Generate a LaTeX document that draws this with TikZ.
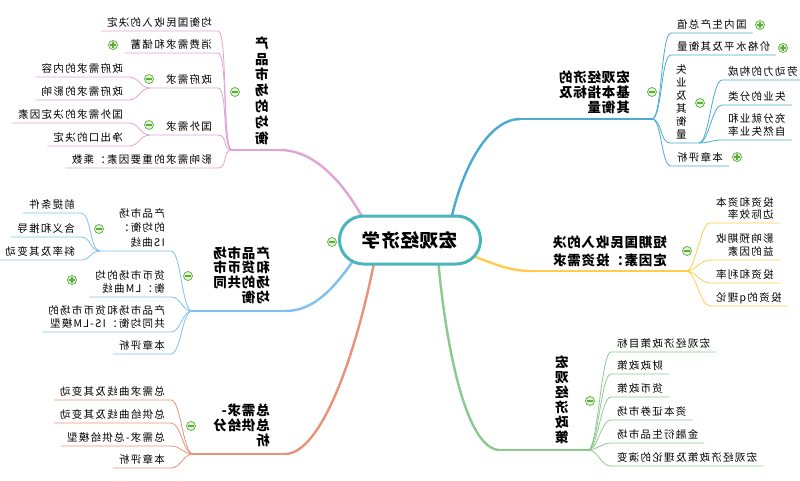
\documentclass[tikz,border=0pt]{standalone}
\usepackage{fontspec}
\setmainfont{Noto Sans CJK SC}
\usetikzlibrary{calc}
\definecolor{boxteal}{HTML}{4BB5BC}
\definecolor{brA}{HTML}{4AABCF}
\definecolor{brB}{HTML}{FFCC4D}
\definecolor{brC}{HTML}{8CC98F}
\definecolor{brD}{HTML}{E0A3D5}
\definecolor{brE}{HTML}{80C0F0}
\definecolor{brF}{HTML}{E89378}
\definecolor{btngreen}{HTML}{5AAE3A}
\definecolor{btnfill}{HTML}{E4F2D8}
\tikzset{
  leaf/.style={inner xsep=6pt, inner ysep=2.6pt, text depth=2pt, align=left,
    font=\fontsize{10.5}{13}\selectfont\addfontfeatures{LetterSpace=12}},
  topic/.style={inner sep=0pt, text depth=2pt, align=left,
    font=\fontsize{13.5}{15}\selectfont\bfseries\addfontfeatures{LetterSpace=6}},
  trunk/.style={line width=2.4pt, line cap=round},
  stem/.style={line width=1.2pt},
  twig/.style={line width=0.8pt},
  btn/.style={circle, draw=btngreen, fill=btnfill, line width=0.7pt,
    minimum size=9pt, inner sep=0pt},
  collapse/.style={btn, path picture={
    \draw[btngreen, line width=1.1pt] ([xshift=-2.6pt]path picture bounding box.center)
      -- ([xshift=2.6pt]path picture bounding box.center);}},
  expand/.style={btn, path picture={
    \draw[btngreen, line width=1.1pt] ([xshift=-2.6pt]path picture bounding box.center)
      -- ([xshift=2.6pt]path picture bounding box.center)
      ([yshift=-2.6pt]path picture bounding box.center)
      -- ([yshift=2.6pt]path picture bounding box.center);}},
}
\begin{document}
\begin{tikzpicture}[x=1pt, y=-1pt]
\begin{scope}[xscale=-1, transform shape]
\useasboundingbox (0,0) rectangle (800,481);
% junctions
\coordinate (jA) at (148,119);
\coordinate (jU) at (101,143);
\coordinate (jB) at (114,271);
\coordinate (jC) at (212,450);
\coordinate (jD) at (568,150);
\coordinate (jG) at (650,88);
\coordinate (jW) at (650,135);
\coordinate (jE) at (608,311);
\coordinate (jI) at (700,251);
\coordinate (jF) at (607,454);
% trunk ends
\coordinate (aIn) at (280,119);
\coordinate (bIn) at (267,271);
\coordinate (cIn) at (300,450);
\coordinate (dIn) at (520,150);
\coordinate (eIn) at (515,311);
\coordinate (fIn) at (515,454);
\coordinate (pA) at (350,225);
\coordinate (pB) at (330,255);
\coordinate (pC) at (362,258);
\coordinate (pD) at (435,222);
\coordinate (pE) at (445,258);
\coordinate (pF) at (425,258);

% trunks
\draw[trunk, brA] (pA) .. controls (338,165) and (310,119) .. (aIn);
\draw[trunk, brB] (pB) .. controls (300,266) and (290,271) .. (bIn);
\draw[trunk, brC] (pC) .. controls (355,340) and (335,450) .. (cIn);
\draw[trunk, brD] (pD) .. controls (460,175) and (490,150) .. (dIn);
\draw[trunk, brE] (pE) .. controls (470,295) and (490,311) .. (eIn);
\draw[trunk, brF] (pF) .. controls (445,360) and (480,454) .. (fIn);
\draw[stem, brA] (aIn) -- (jA);
\draw[stem, brB] (bIn) -- (jB);
\draw[stem, brC] (cIn) -- (jC);
\draw[stem, brD] (dIn) -- (jD);
\draw[stem, brE] (eIn) -- (jE);
\draw[stem, brF] (fIn) -- (jF);

% central topic
\node[draw=boxteal, line width=3pt, rounded corners=24pt, fill=white,
  minimum width=141pt, minimum height=48pt,
  font=\fontsize{18.5}{20}\selectfont\bfseries\addfontfeatures{LetterSpace=4}] (box) at (390,240) {宏观经济学};

% main topics
\node[topic, anchor=south west, inner ysep=4.7pt] (tA) at (170,119) {宏观经济的\\基本指标及\\其衡量};
\node[topic, anchor=south west, inner ysep=3.7pt, font=\fontsize{13.5}{18}\selectfont\bfseries\addfontfeatures{LetterSpace=6}] (tB) at (133,271) {短期国民收入的决\\定因素：投资需求};
\node[topic, anchor=south, align=center, inner ysep=5.7pt] (tC) at (238,450) {宏\\观\\经\\济\\政\\策};
\node[topic, anchor=south, align=center, inner ysep=4.7pt, font=\fontsize{13.5}{15.8}\selectfont\bfseries] (tD) at (538,150) {产\\品\\市\\场\\的\\均\\衡};
\node[topic, anchor=south west, inner ysep=6.7pt, font=\fontsize{13.5}{14.7}\selectfont\bfseries\addfontfeatures{LetterSpace=6}] (tE) at (530,311) {产品市场\\和货币市\\场的共同\\均衡};
\node[topic, anchor=south west, inner ysep=6.7pt] (tF) at (530,454) {总需求-\\总供给分\\析};

% branch A
\node[leaf, anchor=south east] (a1) at (129,33) {国内生产总值};
\node[leaf, anchor=south east] (a2) at (129,55) {价格水平及其衡量};
\node[leaf, anchor=south east, align=center] (a3) at (130,143) {失\\业\\及\\其\\衡\\量};
\node[leaf, anchor=south east] (a4) at (129,166) {本章评析};
\node[leaf, anchor=south east] (u1) at (78,80) {劳动力的构成};
\node[leaf, anchor=south east] (u2) at (78,105) {失业的分类};
\node[leaf, anchor=south east] (u3) at (78,140) {充分就业和\\自然失业率};
\foreach \n in {a1,a2,a4}
  \draw[twig, brA] (jA) .. controls +(-10,0) and +(10,0) .. (\n.south east) -- (\n.south west);
\draw[twig, brA] (jA) .. controls +(-10,0) and +(10,0) .. (a3.south east) -- (jU);
\foreach \n in {u1,u2,u3}
  \draw[twig, brA] (jU) .. controls +(-10,0) and +(10,0) .. (\n.south east) -- (\n.south west);

% branch B
\node[leaf, anchor=south east, font=\fontsize{10.5}{11.5}\selectfont\addfontfeatures{LetterSpace=12}] (b1) at (90,223) {投资和资本\\边际效率};
\node[leaf, anchor=south east] (b2) at (90,260) {影响预期收\\益的因素};
\node[leaf, anchor=south east] (b3) at (90,283) {投资和利率};
\node[leaf, anchor=south east] (b4) at (90,306) {投资的q理论};
\foreach \n in {b1,b2,b3,b4}
  \draw[twig, brB] (jB) .. controls +(-10,0) and +(10,0) .. (\n.south east) -- (\n.south west);

% branch C
\node[leaf, anchor=south east] (c1) at (189,352) {宏观经济政策目标};
\node[leaf, anchor=south east] (c2) at (189,374) {财政政策};
\node[leaf, anchor=south east] (c3) at (189,397) {货币政策};
\node[leaf, anchor=south east] (c4) at (189,420) {资本证券市场};
\node[leaf, anchor=south east] (c5) at (189,443) {金融衍生品市场};
\node[leaf, anchor=south east] (c6) at (189,466) {宏观经济政策及理论的演变};
\foreach \n in {c1,c2,c3,c4,c5,c6}
  \draw[twig, brC] (jC) .. controls +(-10,0) and +(10,0) .. (\n.south east) -- (\n.south west);

% branch D
\node[leaf, anchor=south west] (d1) at (582,31) {均衡国民收入的决定};
\node[leaf, anchor=south west] (d2) at (582,53) {消费需求和储蓄};
\node[leaf, anchor=south west] (d3) at (582,88) {政府需求};
\node[leaf, anchor=south west] (d4) at (582,135) {国外需求};
\node[leaf, anchor=south west] (d5) at (582,168) {影响需求的重要因素：乘数};
\node[leaf, anchor=south west] (g1) at (671,77) {政府需求的内容};
\node[leaf, anchor=south west] (g2) at (671,100) {政府需求的影响};
\node[leaf, anchor=south west] (w1) at (671,123) {国外需求的决定因素};
\node[leaf, anchor=south west] (w2) at (671,146) {净出口的决定};
\foreach \n in {d1,d2,d5}
  \draw[twig, brD] (jD) .. controls +(10,0) and +(-10,0) .. (\n.south west) -- (\n.south east);
\draw[twig, brD] (jD) .. controls +(10,0) and +(-10,0) .. (d3.south west) -- (jG);
\draw[twig, brD] (jD) .. controls +(10,0) and +(-10,0) .. (d4.south west) -- (jW);
\foreach \n in {g1,g2}
  \draw[twig, brD] (jG) .. controls +(10,0) and +(-10,0) .. (\n.south west) -- (\n.south east);
\foreach \n in {w1,w2}
  \draw[twig, brD] (jW) .. controls +(10,0) and +(-10,0) .. (\n.south west) -- (\n.south east);

% branch E
\node[leaf, anchor=south west, font=\fontsize{10.5}{14.5}\selectfont\addfontfeatures{LetterSpace=12}] (e1) at (629,251) {产品市场\\的均衡：\\IS曲线};
\node[leaf, anchor=south west] (e2) at (629,297) {货币市场的均\\衡：LM曲线};
\node[leaf, anchor=south west] (e3) at (629,332) {产品市场和货币市场的\\共同均衡：IS-LM模型};
\node[leaf, anchor=south west] (e4) at (629,354) {本章评析};
\node[leaf, anchor=south west] (i1) at (719,213) {前提条件};
\node[leaf, anchor=south west] (i2) at (719,237) {含义和推导};
\node[leaf, anchor=south west] (i3) at (719,260) {斜率及其变动};
\draw[twig, brE] (jE) .. controls +(10,0) and +(-10,0) .. (e1.south west) -- (jI);
\foreach \n in {e2,e3,e4}
  \draw[twig, brE] (jE) .. controls +(10,0) and +(-10,0) .. (\n.south west) -- (\n.south east);
\foreach \n in {i1,i2,i3}
  \draw[twig, brE] (jI) .. controls +(10,0) and +(-10,0) .. (\n.south west) -- (\n.south east);

% branch F
\node[leaf, anchor=south west] (f1) at (629,400) {总需求曲线及其变动};
\node[leaf, anchor=south west] (f2) at (629,423) {总供给曲线及其变动};
\node[leaf, anchor=south west] (f3) at (629,446) {总需求-总供给模型};
\node[leaf, anchor=south west] (f4) at (629,468) {本章评析};
\foreach \n in {f1,f2,f3,f4}
  \draw[twig, brF] (jF) .. controls +(10,0) and +(-10,0) .. (\n.south west) -- (\n.south east);

% buttons
\node[collapse] (xbox) at (468,242) {};
\node[collapse] (xA) at (148,92) {};
\node[collapse] (xU) at (100,103) {};
\node[collapse] (xB) at (113,251) {};
\node[collapse] (xC) at (210,401) {};
\node[collapse] (xD) at (565,92) {};
\node[collapse] (xG) at (651,79) {};
\node[collapse] (xW) at (651,125) {};
\node[collapse] (xE) at (612,276) {};
\node[collapse] (xI) at (701,229) {};
\node[collapse] (xF) at (609,426) {};
\node[expand] (pa1) at (40,25) {};
\node[expand] (pa2) at (17,48) {};
\node[expand] (pa4) at (63,157) {};
\node[expand] (pd2) at (687,45) {};
\node[expand] (pe2) at (728,280) {};
\end{scope}
\end{tikzpicture}
\end{document}
